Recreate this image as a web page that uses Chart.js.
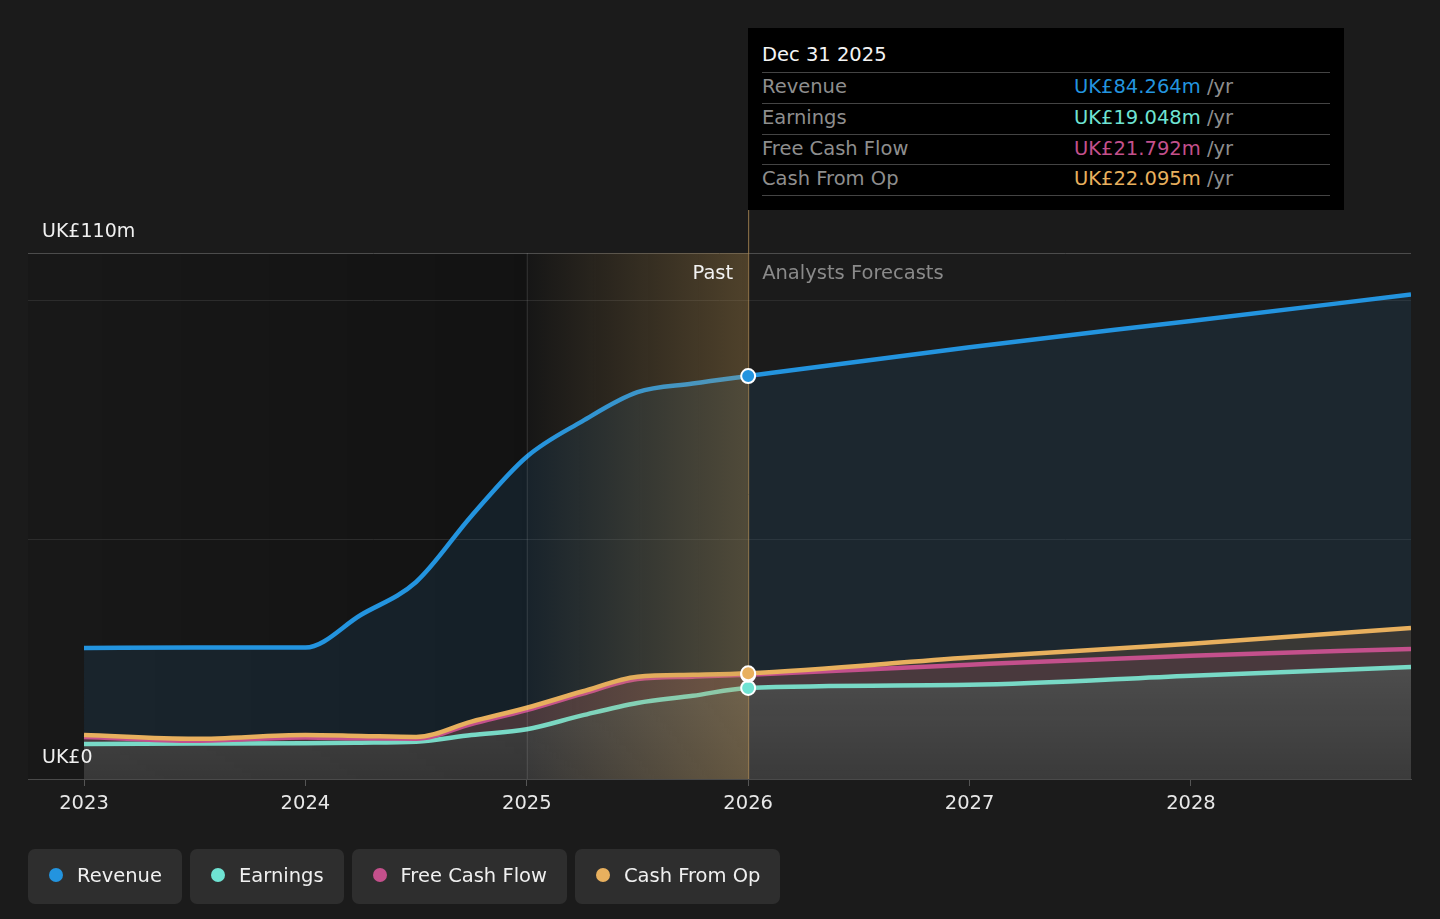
<!DOCTYPE html>
<html>
<head>
<meta charset="utf-8">
<script src="https://cdn.jsdelivr.net/npm/chart.js@4.4.1/dist/chart.umd.min.js"></script>
<style>
  body { margin: 0; background: #1b1b1b; font-family: "DejaVu Sans", sans-serif; }
  #wrap { position: relative; width: 1440px; height: 919px; overflow: hidden; }
  #chart { position: absolute; left: 0; top: 0; }
  .tip { position: absolute; left: 748px; top: 28px; width: 596px; height: 182px; background: #000;
         box-sizing: border-box; padding: 0 14px; font-size: 19.5px; }
  .tip .ttl { height: 44px; line-height: 54px; color: #f4f4f4; }
  .tip .row { height: 29.8px; line-height: 28px; border-top: 1px solid #444; display: flex; }
  .tip .row:last-child { border-bottom: 1px solid #444; }
  .tip .lab { width: 312px; color: #8e8e8e; }
  .tip .unit { color: #8e8e8e; }
  .legend { position: absolute; left: 28px; top: 849px; display: flex; gap: 8px; }
  .legend .item { height: 55px; box-sizing: border-box; padding: 0 20px 3px 21px; background: #2e2e2e; border-radius: 7px;
                  display: flex; align-items: center; font-size: 19.5px; color: #f0f0f0; }
  .legend .dot { width: 14px; height: 14px; border-radius: 50%; margin-right: 14px; }
</style>
</head>
<body>
<div id="wrap">
  <canvas id="chart" width="1440" height="919"></canvas>
  <div class="tip" id="tip"></div>
  <div class="legend" id="legend"></div>
</div>
<script>
// years (fractional) for every point, past quarters then forecast years
const years    = [2023, 2023.5, 2024, 2024.25, 2024.5, 2024.75, 2025, 2025.25, 2025.5, 2025.75, 2026, 2027, 2028, 2028.994];
const revenue  = [27.4, 27.5, 27.5, 34.3, 41.2, 55.0, 67.4, 74.8, 80.9, 82.7, 84.264, 90.3, 95.8, 101.3];
const earnings = [7.3, 7.4, 7.5, 7.6, 7.8, 9.2, 10.4, 13.3, 15.9, 17.4, 19.048, 19.7, 21.6, 23.4];
const fcf      = [8.8, 8.0, 8.7, 8.5, 8.4, 11.5, 14.4, 17.8, 20.9, 21.4, 21.792, 23.9, 25.8, 27.2];
const cashOp   = [9.2, 8.4, 9.2, 9.0, 8.8, 12.0, 14.9, 18.3, 21.4, 21.8, 22.095, 25.4, 28.3, 31.6];

const seriesNames  = ['Revenue', 'Earnings', 'Free Cash Flow', 'Cash From Op'];
const seriesColors = ['#2394df', '#78d9c6', '#c4508c', '#e8b05e'];
const dotColors    = ['#2394df', '#6fe3d3', '#c4508c', '#e8b05e'];

const xTicks = [2023, 2024, 2025, 2026, 2027, 2028];
const xTickLabels = ['2023', '2024', '2025', '2026', '2027', '2028'];
const yTicks = [0, 50, 100, 110];
const yTickLabels = ['UK£0', '', '', 'UK£110m'];

const pastStart = 2025;
const forecastStart = 2026;
const tipTitle = 'Dec 31 2025';
const tipValues = ['UK£84.264m', 'UK£19.048m', 'UK£21.792m', 'UK£22.095m'];

const FONT = '"DejaVu Sans", sans-serif';
const pts = arr => years.map((x, i) => ({ x: x, y: arr[i] }));
const iNow = years.indexOf(forecastStart);

// tooltip + legend as html
const tip = document.getElementById('tip');
tip.innerHTML = '<div class="ttl">' + tipTitle + '</div>' + seriesNames.map((n, i) =>
  '<div class="row"><span class="lab">' + n + '</span><span style="color:' + dotColors[i] + '">' +
  tipValues[i] + '</span><span class="unit">&nbsp;/yr</span></div>').join('');
document.getElementById('legend').innerHTML = seriesNames.map((n, i) =>
  '<div class="item"><span class="dot" style="background:' + dotColors[i] + '"></span>' + n + '</div>').join('');

const bandPlugin = {
  id: 'band',
  beforeDraw(chart) {
    // darker background over the past part
    const { ctx, chartArea: a, scales: { x } } = chart;
    const x25 = x.getPixelForValue(pastStart), x26 = x.getPixelForValue(forecastStart);
    ctx.save();
    let g = ctx.createLinearGradient(a.left, 0, x25, 0);
    g.addColorStop(0, 'rgba(0,0,0,0.08)');
    g.addColorStop(1, 'rgba(0,0,0,0.3)');
    ctx.fillStyle = g;
    ctx.fillRect(a.left, a.top, x25 - a.left, a.bottom - a.top);
    g = ctx.createLinearGradient(x25, 0, x26, 0);
    g.addColorStop(0, 'rgba(0,0,0,0.15)');
    g.addColorStop(1, 'rgba(0,0,0,0)');
    ctx.fillStyle = g;
    ctx.fillRect(x25, a.top, x26 - x25, a.bottom - a.top);
    ctx.restore();
  },
  beforeDatasetDraw(chart, args) {
    if (args.index !== 4) return;
    const { ctx, chartArea: a, scales: { x } } = chart;
    const x25 = x.getPixelForValue(pastStart), x26 = x.getPixelForValue(forecastStart);
    ctx.save();
    const g = ctx.createLinearGradient(x25, 0, x26, 0);
    g.addColorStop(0, 'rgba(200,155,80,0)');
    g.addColorStop(1, 'rgba(200,155,80,0.3)');
    ctx.fillStyle = g;
    ctx.fillRect(x25, a.top, x26 - x25, a.bottom - a.top);
    ctx.lineWidth = 1;
    ctx.strokeStyle = 'rgba(255,255,255,0.13)';
    ctx.beginPath();
    ctx.moveTo(x25 + 0.5, a.top); ctx.lineTo(x25 + 0.5, a.bottom);
    ctx.stroke();
    ctx.strokeStyle = 'rgba(190,150,90,0.75)';
    ctx.beginPath();
    ctx.moveTo(x26 + 0.5, a.top - 43); ctx.lineTo(x26 + 0.5, a.bottom);
    ctx.stroke();
    ctx.font = '19.5px ' + FONT;
    ctx.textBaseline = 'middle';
    ctx.textAlign = 'right';
    ctx.fillStyle = '#f2f2f2';
    ctx.fillText('Past', x26 - 15, a.top + 21);
    ctx.textAlign = 'left';
    ctx.fillStyle = '#8a8a8a';
    ctx.fillText('Analysts Forecasts', x26 + 14, a.top + 21);
    ctx.restore();
  }
};

const grayFill = c => {
  const a = c.chart.chartArea;
  if (!a) return 'rgba(255,255,255,0.18)';
  const g = c.chart.ctx.createLinearGradient(0, a.bottom - 110, 0, a.bottom);
  g.addColorStop(0, 'rgba(255,255,255,0.22)');
  g.addColorStop(1, 'rgba(255,255,255,0.14)');
  return g;
};

const line = (i, data, fill, bg, order) => ({
  label: seriesNames[i], data: pts(data), borderColor: seriesColors[i], backgroundColor: bg,
  fill: fill, borderWidth: 4.5, pointRadius: 0, cubicInterpolationMode: 'monotone', order: order
});

new Chart(document.getElementById('chart'), {
  type: 'line',
  data: {
    datasets: [
      line(0, revenue, 3, 'rgba(35,148,223,0.1)', 1),
      line(1, earnings, 'origin', grayFill, 4),
      line(2, fcf, 1, 'rgba(105,79,85,0.6)', 3),
      line(3, cashOp, 2, 'rgba(79,77,72,0.6)', 2),
      {
        label: 'now', order: 0, showLine: false,
        data: [revenue, earnings, fcf, cashOp].map(a => ({ x: years[iNow], y: a[iNow] })),
        pointRadius: 7, pointBorderWidth: 2, pointBorderColor: '#ffffff',
        pointBackgroundColor: [dotColors[0], dotColors[1], dotColors[2], dotColors[3]]
      }
    ]
  },
  options: {
    responsive: false,
    animation: false,
    layout: { padding: { left: 28, right: 29, top: 253, bottom: 100 } },
    plugins: {
      legend: { display: false },
      tooltip: { enabled: false },
      filler: { drawTime: 'beforeDatasetsDraw' }
    },
    scales: {
      x: {
        type: 'linear', min: 2022.747, max: 2028.994,
        afterBuildTicks: s => { s.ticks = xTicks.map(v => ({ value: v })); },
        afterFit: s => { s.height = 40; },
        ticks: {
          color: '#e8e8e8', font: { family: FONT, size: 19.5 }, padding: 6,
          autoSkip: false, maxRotation: 0,
          callback: v => xTickLabels[xTicks.indexOf(v)]
        },
        grid: { drawOnChartArea: false, drawTicks: true, tickLength: 7, color: '#555' },
        border: { color: '#4a4a4a', width: 1 }
      },
      y: {
        min: 0, max: 110,
        afterBuildTicks: s => { s.ticks = yTicks.map(v => ({ value: v })); },
        afterFit: s => { s.width = 0; },
        ticks: {
          mirror: true, padding: 14, labelOffset: -21, color: '#f0f0f0',
          font: { family: FONT, size: 19 },
          callback: v => yTickLabels[yTicks.indexOf(v)]
        },
        grid: {
          drawTicks: false,
          color: c => (c.tick && (c.tick.value === 110 || c.tick.value === 0)) ? '#4c4c4c' : '#2c2c2c'
        },
        border: { display: false }
      }
    }
  },
  plugins: [bandPlugin]
});
</script>
</body>
</html>
